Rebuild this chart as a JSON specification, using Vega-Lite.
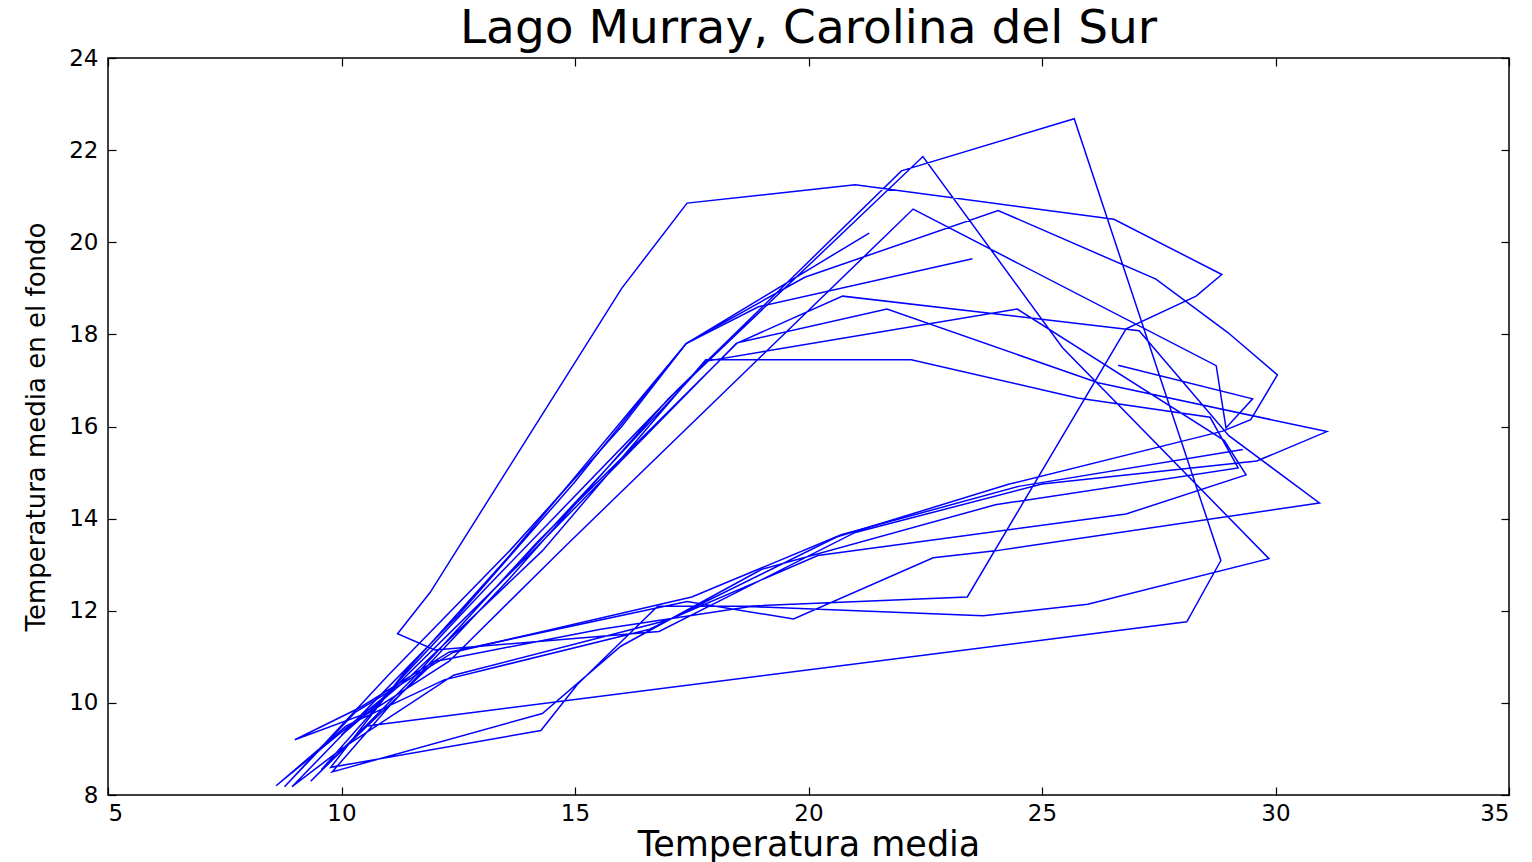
{
"$schema":"https://vega.github.io/schema/vega-lite/v6.json",
"width":1401,"height":737,
"autosize":{"type":"none"},
"padding":{"left":108,"top":58,"right":23,"bottom":67},
"background":"white",
"title":{"text":"Lago Murray, Carolina del Sur","font":"DejaVu Sans","fontSize":47,"fontWeight":"normal","color":"black","anchor":"middle","baseline":"bottom","offset":4,"dy":57},
"config":{"view":{"stroke":"black","strokeWidth":1.5},
 "axis":{"grid":false,"domain":false,"tickColor":"black","tickSize":-8,"tickWidth":1.2,"labelColor":"black","titleColor":"black","labelFont":"DejaVu Sans","labelFontSize":23,"titleFont":"DejaVu Sans","titleFontWeight":"normal"}},
"data":{"values":[
{"s":"a","i":0,"x":26.63,"y":17.33},{"s":"a","i":1,"x":29.51,"y":16.6},{"s":"a","i":2,"x":28.94,"y":15.97},{"s":"a","i":3,"x":28.73,"y":17.32},{"s":"a","i":4,"x":22.24,"y":20.72},{"s":"a","i":5,"x":14.83,"y":13.44},{"s":"a","i":6,"x":12.3,"y":10.9},{"s":"a","i":7,"x":10.3,"y":9.6},{"s":"a","i":8,"x":8.94,"y":8.18},
{"s":"a","i":9,"x":10.0,"y":9.0},{"s":"a","i":10,"x":12.4,"y":10.6},{"s":"a","i":11,"x":17.0,"y":11.8},{"s":"a","i":12,"x":20.2,"y":13.2},{"s":"a","i":13,"x":26.8,"y":14.1},{"s":"a","i":14,"x":29.37,"y":14.95},{"s":"a","i":15,"x":28.9,"y":15.7},{"s":"a","i":16,"x":24.47,"y":18.55},{"s":"a","i":17,"x":17.82,"y":17.42},{"s":"a","i":18,"x":13.4,"y":12.6},{"s":"a","i":19,"x":11.0,"y":10.2},{"s":"a","i":20,"x":8.6,"y":8.2},
{"s":"a","i":21,"x":10.1,"y":9.5},{"s":"a","i":22,"x":12.2,"y":10.5},{"s":"a","i":23,"x":16.6,"y":11.6},{"s":"a","i":24,"x":20.6,"y":13.6},{"s":"a","i":25,"x":24.3,"y":14.75},{"s":"a","i":26,"x":28.87,"y":15.9},{"s":"a","i":27,"x":29.47,"y":16.15},{"s":"a","i":28,"x":30.04,"y":17.12},{"s":"a","i":29,"x":28.98,"y":18.04},{"s":"a","i":30,"x":27.44,"y":19.2},{"s":"a","i":31,"x":24.06,"y":20.69},{"s":"a","i":32,"x":19.92,"y":19.24},{"s":"a","i":33,"x":17.38,"y":17.8},{"s":"a","i":34,"x":13.6,"y":13.2},{"s":"a","i":35,"x":11.3,"y":10.6},{"s":"a","i":36,"x":9.77,"y":8.6},
{"s":"a","i":37,"x":14.27,"y":9.4},{"s":"a","i":38,"x":15.05,"y":10.4},{"s":"a","i":39,"x":16.77,"y":12.1},{"s":"a","i":40,"x":18.72,"y":12.1},{"s":"a","i":41,"x":23.4,"y":12.3},{"s":"a","i":42,"x":26.8,"y":18.12},{"s":"a","i":43,"x":28.3,"y":18.83},{"s":"a","i":44,"x":28.85,"y":19.3},{"s":"a","i":45,"x":26.54,"y":20.5},{"s":"a","i":46,"x":21.0,"y":21.25},{"s":"a","i":47,"x":17.4,"y":20.85},{"s":"a","i":48,"x":16.0,"y":19.0},{"s":"a","i":49,"x":11.9,"y":12.4},{"s":"a","i":50,"x":11.2,"y":11.5},
{"s":"a","i":51,"x":12.0,"y":11.15},{"s":"a","i":52,"x":16.8,"y":11.55},{"s":"a","i":53,"x":21.0,"y":13.7},{"s":"a","i":54,"x":25.0,"y":14.75},{"s":"a","i":55,"x":29.6,"y":15.25},{"s":"a","i":56,"x":31.1,"y":15.89},{"s":"a","i":57,"x":26.2,"y":16.95},{"s":"a","i":58,"x":21.68,"y":18.55},{"s":"a","i":59,"x":18.48,"y":17.82},{"s":"a","i":60,"x":14.2,"y":13.5},{"s":"a","i":61,"x":11.5,"y":10.5},{"s":"a","i":62,"x":9.34,"y":8.3},
{"s":"a","i":63,"x":10.55,"y":9.5},{"s":"a","i":64,"x":28.1,"y":11.76},{"s":"a","i":65,"x":28.83,"y":13.09},{"s":"a","i":66,"x":25.69,"y":22.68},{"s":"a","i":67,"x":21.99,"y":21.55},{"s":"a","i":68,"x":17.2,"y":16.8},{"s":"a","i":69,"x":13.1,"y":12.5},{"s":"a","i":70,"x":10.6,"y":9.8},{"s":"a","i":71,"x":9.0,"y":9.2},
{"s":"a","i":72,"x":10.4,"y":9.9},{"s":"a","i":73,"x":12.3,"y":11.1},{"s":"a","i":74,"x":17.4,"y":12.2},{"s":"a","i":75,"x":19.68,"y":11.82},{"s":"a","i":76,"x":22.67,"y":13.15},{"s":"a","i":77,"x":24.0,"y":13.3},{"s":"a","i":78,"x":30.94,"y":14.34},{"s":"a","i":79,"x":29.0,"y":15.8},{"s":"a","i":80,"x":27.08,"y":18.08},{"s":"a","i":81,"x":20.73,"y":18.83},{"s":"a","i":82,"x":18.45,"y":17.8},{"s":"a","i":83,"x":14.0,"y":13.2},{"s":"a","i":84,"x":11.0,"y":10.2},{"s":"a","i":85,"x":9.57,"y":8.55},
{"s":"a","i":86,"x":12.0,"y":10.9},{"s":"a","i":87,"x":15.55,"y":11.6},{"s":"a","i":88,"x":18.76,"y":12.09},{"s":"a","i":89,"x":23.74,"y":11.89},{"s":"a","i":90,"x":25.98,"y":12.14},{"s":"a","i":91,"x":29.86,"y":13.13},{"s":"a","i":92,"x":25.44,"y":17.71},{"s":"a","i":93,"x":22.45,"y":21.86},{"s":"a","i":94,"x":17.0,"y":16.6},{"s":"a","i":95,"x":13.6,"y":12.7},{"s":"a","i":96,"x":11.0,"y":9.9},{"s":"a","i":97,"x":9.8,"y":8.5},
{"s":"a","i":98,"x":14.3,"y":9.77},{"s":"a","i":99,"x":15.98,"y":11.23},{"s":"a","i":100,"x":19.0,"y":12.9},{"s":"a","i":101,"x":24.0,"y":14.3},{"s":"a","i":102,"x":29.2,"y":15.1},{"s":"a","i":103,"x":28.6,"y":16.2},{"s":"a","i":104,"x":25.76,"y":16.62},{"s":"a","i":105,"x":22.2,"y":17.45},{"s":"a","i":106,"x":17.8,"y":17.45},{"s":"a","i":107,"x":14.3,"y":13.3},{"s":"a","i":108,"x":11.5,"y":10.6},{"s":"a","i":109,"x":10.0,"y":9.3},
{"s":"a","i":110,"x":12.5,"y":11.9},{"s":"a","i":111,"x":15.0,"y":14.8},{"s":"a","i":112,"x":17.38,"y":17.8},{"s":"a","i":113,"x":21.3,"y":20.2},
{"s":"b","i":0,"x":29.3,"y":15.5},{"s":"b","i":1,"x":24.5,"y":14.7},{"s":"b","i":2,"x":20.7,"y":13.65},{"s":"b","i":3,"x":17.5,"y":12.3},{"s":"b","i":4,"x":12.4,"y":11.1},{"s":"b","i":5,"x":10.3,"y":9.8},{"s":"b","i":6,"x":8.78,"y":8.18},{"s":"b","i":7,"x":11.0,"y":10.6},{"s":"b","i":8,"x":13.6,"y":13.3},{"s":"b","i":9,"x":16.0,"y":16.0},{"s":"b","i":10,"x":17.38,"y":17.8},{"s":"b","i":11,"x":18.93,"y":18.6},{"s":"b","i":12,"x":23.51,"y":19.64}
]},
"layer":[
 {"mark":{"type":"line","color":"#0000ff","strokeWidth":1.5},
  "encoding":{
   "x":{"field":"x","type":"quantitative","scale":{"domain":[5,35],"nice":false,"zero":false},
        "axis":{"orient":"bottom","values":[5,10,15,20,25,30,35],"labelPadding":15,"title":"Temperatura media","titleFontSize":35,"titlePadding":2}},
   "y":{"field":"y","type":"quantitative","scale":{"domain":[8,24],"nice":false,"zero":false},
        "axis":{"orient":"left","values":[8,10,12,14,16,18,20,22,24],"labelPadding":18,"title":"Temperatura media en el fondo","titleFontSize":26,"titlePadding":19}},
   "detail":{"field":"s"},
   "order":{"field":"i","type":"quantitative"}}},
 {"mark":{"type":"line","strokeOpacity":0},
  "encoding":{
   "x":{"field":"x","type":"quantitative","axis":{"orient":"top","values":[5,10,15,20,25,30,35],"labels":false,"title":null}},
   "y":{"field":"y","type":"quantitative","axis":{"orient":"right","values":[8,10,12,14,16,18,20,22,24],"labels":false,"title":null}},
   "detail":{"field":"s"},
   "order":{"field":"i","type":"quantitative"}}}
],
"resolve":{"axis":{"x":"independent","y":"independent"}}
}
